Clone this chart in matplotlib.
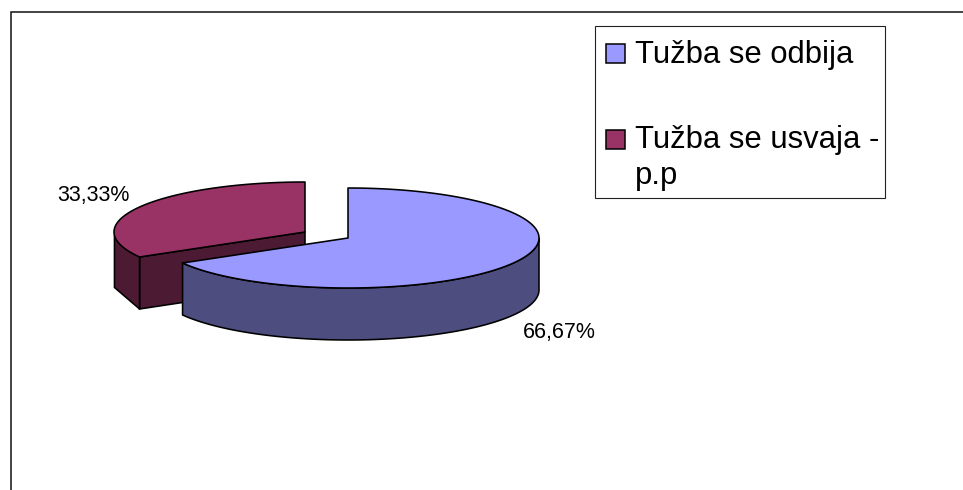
import numpy as np
import matplotlib
matplotlib.use("Agg")
import matplotlib.pyplot as plt
from matplotlib.patches import Rectangle

plt.rcParams["font.family"] = ["Liberation Sans", "DejaVu Sans"]

legend_names = ["Tužba se odbija", "Tužba se usvaja -\np.p"]
shares = [66.67, 33.33]
share_labels = ["66,67%", "33,33%"]

top_colors = ["#9999FF", "#993366"]
side_colors = ["#4D4D80", "#4D1A33"]
EDGE = "#000000"
LW = 1.15
DEPTH = 52

fig = plt.figure(figsize=(9.63, 4.9), dpi=100)
ax = fig.add_axes([0, 0, 1, 1])
ax.set_xlim(0, 963)
ax.set_ylim(490, 0)
ax.axis("off")

# chart frame, runs off the right and bottom of the picture
ax.plot([10.5, 10.5, 963], [490, 12, 12], color="#111111", lw=1.1, solid_joinstyle="miter")


def ell(cx, cy, rx, ry, deg):
    a = np.radians(deg)
    return cx + rx * np.cos(a), cy - ry * np.sin(a)


def draw_slice(cx, cy, rx, ry, start, end, side_from, side_to, top_c, side_c, side_n=80):
    # front wall first
    deg = np.linspace(side_from, side_to, side_n)
    x, y = ell(cx, cy, rx, ry, deg)
    ax.fill(np.r_[x, x[::-1]], np.r_[y, y[::-1] + DEPTH], fc=side_c, ec=EDGE, lw=LW, joinstyle="round")
    # top face
    deg = np.linspace(start, end, 160)
    x, y = ell(cx, cy, rx, ry, deg)
    ax.fill(np.r_[cx, x], np.r_[cy, y], fc=top_c, ec=EDGE, lw=LW, joinstyle="round")


# slices start at 12 o'clock and go clockwise
blue_end = 90 - shares[0] * 3.6
red_end = blue_end + 360

# red slice, pulled out to the upper left, with its cut face
rc = (305, 232, 191, 50)
ex, ey = ell(*rc, blue_end)
ax.fill([rc[0], ex, ex, rc[0]], [rc[1], ey, ey + DEPTH, rc[1] + DEPTH], fc=side_colors[1], ec=EDGE, lw=LW)
draw_slice(*rc, 90, red_end, 184, red_end, top_colors[1], side_colors[1], side_n=2)

# blue slice
draw_slice(348, 238, 191, 50, 90, blue_end, blue_end, 0, top_colors[0], side_colors[0])

ax.text(523, 338, share_labels[0], fontsize=15.5, color="black", va="baseline", ha="left")
ax.text(57, 201, share_labels[1], fontsize=15.5, color="black", va="baseline", ha="left")

# legend box
ax.add_patch(Rectangle((594.5, 26.5), 290.5, 172, fc="white", ec="#222222", lw=0.8))
ax.add_patch(Rectangle((606, 44), 19, 19, fc=top_colors[0], ec=EDGE, lw=1.1))
ax.add_patch(Rectangle((606, 130), 19, 19, fc=top_colors[1], ec=EDGE, lw=1.1))
ax.text(635, 62.5, legend_names[0], fontsize=22.3, color="black", va="baseline", ha="left")
first, second = legend_names[1].split("\n")
ax.text(635, 148, first, fontsize=22.3, color="black", va="baseline", ha="left")
ax.text(635, 184, second, fontsize=22.3, color="black", va="baseline", ha="left")

fig.savefig("out.png", dpi=100)
